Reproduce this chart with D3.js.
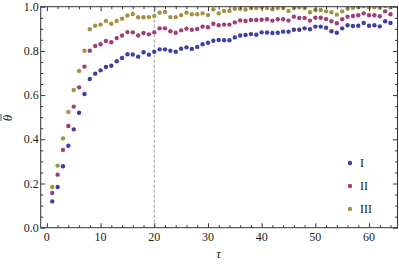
<!DOCTYPE html>
<html>
<head>
<meta charset="utf-8">
<script src="https://cdn.jsdelivr.net/npm/d3@7"></script>
<style>
  body { margin: 0; background: #fff; }
  text { font-family: "Liberation Serif", "DejaVu Serif", serif; fill: #222; }
</style>
</head>
<body>
<div id="canvas"></div>
<script>
// values, tau = 1..64
var tau = d3.range(1, 65);

var seriesI = [0.119,0.184,0.278,0.371,0.445,0.520,0.605,0.673,0.697,0.712,
  0.727,0.733,0.753,0.768,0.785,0.784,0.774,0.794,0.783,0.796,
  0.807,0.807,0.801,0.796,0.810,0.816,0.809,0.818,0.830,0.837,
  0.846,0.849,0.848,0.848,0.861,0.870,0.872,0.876,0.873,0.884,
  0.883,0.881,0.882,0.887,0.887,0.896,0.896,0.902,0.898,0.910,
  0.910,0.905,0.889,0.882,0.902,0.916,0.913,0.914,0.926,0.914,
  0.916,0.911,0.934,0.926];

var seriesII = [0.157,0.240,0.352,0.460,0.548,0.635,0.729,0.801,0.822,0.830,
  0.845,0.839,0.858,0.870,0.885,0.884,0.870,0.881,0.875,0.884,
  0.902,0.902,0.889,0.882,0.893,0.901,0.896,0.899,0.910,0.907,
  0.923,0.916,0.919,0.919,0.929,0.938,0.935,0.940,0.940,0.941,
  0.943,0.937,0.943,0.943,0.937,0.955,0.949,0.949,0.937,0.950,
  0.950,0.944,0.934,0.925,0.943,0.955,0.958,0.961,0.970,0.961,
  0.961,0.957,0.979,0.966];

var seriesIII = [0.184,0.281,0.404,0.524,0.623,0.709,0.801,0.898,0.914,0.919,
  0.935,0.923,0.935,0.946,0.960,0.967,0.952,0.952,0.953,0.958,
  0.973,0.976,0.953,0.953,0.962,0.973,0.966,0.966,0.970,0.962,
  0.988,0.970,0.981,0.981,0.991,0.991,0.987,0.994,0.994,0.997,
  0.994,0.988,0.994,0.994,0.981,0.994,0.997,0.994,0.975,0.985,
  0.985,0.979,0.975,0.964,0.979,0.991,0.995,0.998,1.002,0.997,
  0.998,0.996,1.003,0.998];

var names = ['I', 'II', 'III'];
var colors = ['#3f3fa8', '#a33d77', '#a39341'];

var xTicks = [0, 10, 20, 30, 40, 50, 60];
var yTicks = [0, 0.2, 0.4, 0.6, 0.8, 1.0];
var markTau = 20;

var W = 399, H = 264;
var m = {t: 6.7, r: 1.5, b: 36.3, l: 40.7},
    w = W - m.l - m.r,
    h = H - m.t - m.b;

var svg = d3.select('#canvas').append('svg')
    .attr('width', W).attr('height', H);

var x = d3.scaleLinear().domain([-1.15, 65.3]).range([m.l, m.l + w]);
var y = d3.scaleLinear().domain([0, 1]).range([m.t + h, m.t]);

svg.append('clipPath').attr('id', 'clip')
  .append('rect').attr('x', m.l).attr('y', m.t).attr('width', w).attr('height', h);

//dashed marker at tau = 20
svg.append('line')
    .attr('x1', x(markTau)).attr('x2', x(markTau))
    .attr('y1', y(0)).attr('y2', y(1))
    .attr('stroke', '#9a9a9a').attr('stroke-width', 1)
    .attr('stroke-dasharray', '3,2');

//points
var all = [seriesI, seriesII, seriesIII];
var pts = svg.append('g').attr('clip-path', 'url(#clip)');
all.forEach(function(s, i){
    pts.selectAll('.p' + i)
        .data(s)
        .enter()
        .append('circle')
        .attr('cx', function(d, j){ return x(tau[j]); })
        .attr('cy', function(d){ return y(d); })
        .attr('r', 2.2)
        .attr('fill', colors[i]);
});

//frame with ticks on all sides
function frameAxis(axis, tx, ty, values, len){
    svg.append('g')
        .attr('transform', 'translate(' + tx + ',' + ty + ')')
        .call(axis.tickValues(values).tickSize(len).tickFormat(''))
        .call(function(g){ g.select('.domain').remove(); })
        .selectAll('line').attr('stroke', '#333');
}
var xMinor = d3.range(0, 66, 2).filter(function(v){ return v % 10; });
var yMinor = d3.range(0, 1.001, 0.05).map(function(v){ return +v.toFixed(2); })
    .filter(function(v){ return Math.round(v * 100) % 20; });

frameAxis(d3.axisTop(x), 0, m.t + h, xTicks, 4.5);
frameAxis(d3.axisTop(x), 0, m.t + h, xMinor, 2.5);
frameAxis(d3.axisBottom(x), 0, m.t, xTicks, 4.5);
frameAxis(d3.axisBottom(x), 0, m.t, xMinor, 2.5);
frameAxis(d3.axisRight(y), m.l, 0, yTicks, 4.5);
frameAxis(d3.axisRight(y), m.l, 0, yMinor, 2.5);
frameAxis(d3.axisLeft(y), m.l + w, 0, yTicks, 4.5);
frameAxis(d3.axisLeft(y), m.l + w, 0, yMinor, 2.5);

svg.append('rect')
    .attr('x', m.l).attr('y', m.t).attr('width', w).attr('height', h)
    .attr('fill', 'none').attr('stroke', '#333').attr('stroke-width', 1);

//tick labels
svg.selectAll('.xl').data(xTicks).enter().append('text')
    .attr('x', function(d){ return x(d); })
    .attr('y', m.t + h + 13.5)
    .attr('text-anchor', 'middle')
    .style('font-size', '12px')
    .text(function(d){ return d; });

svg.selectAll('.yl').data(yTicks).enter().append('text')
    .attr('x', m.l - 2)
    .attr('y', function(d){ return y(d) + 4; })
    .attr('text-anchor', 'end')
    .style('font-size', '12px')
    .text(function(d){ return d.toFixed(1); });

//axis titles
svg.append('text')
    .attr('x', x(32)).attr('y', 258)
    .attr('text-anchor', 'middle')
    .style('font-size', '13px').style('font-style', 'italic')
    .text('τ');

var yl = svg.append('g').attr('transform', 'translate(12,118) rotate(-90)');
yl.append('text')
    .attr('text-anchor', 'middle')
    .style('font-size', '13px').style('font-style', 'italic')
    .text('θ');
yl.append('line')
    .attr('x1', -3).attr('x2', 4).attr('y1', -11).attr('y2', -11)
    .attr('stroke', '#222').attr('stroke-width', 0.8);

//legend
var leg = svg.selectAll('.leg').data(names).enter().append('g')
    .attr('transform', function(d, i){ return 'translate(350,' + (163 + i * 23) + ')'; });
leg.append('circle').attr('r', 2.2).attr('fill', function(d, i){ return colors[i]; });
leg.append('text').attr('x', 10).attr('y', 4)
    .style('font-size', '12px')
    .text(function(d){ return d; });
</script>
</body>
</html>
